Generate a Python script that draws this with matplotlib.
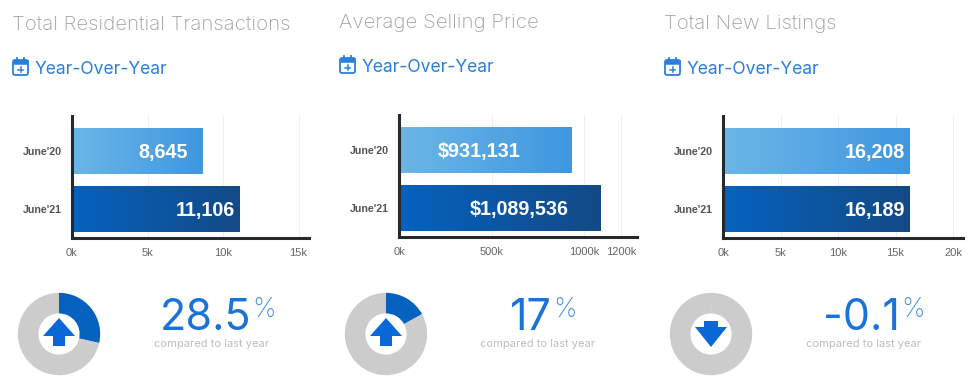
import numpy as np
import matplotlib
matplotlib.use("Agg")
import matplotlib.pyplot as plt
from matplotlib.colors import LinearSegmentedColormap
from matplotlib.patches import FancyBboxPatch, Polygon, Rectangle

# Chart values
titles = ["Total Residential Transactions", "Average Selling Price", "Total New Listings"]
periods = ["June'20", "June'21"]
transactions = [8645, 11106]
prices = [931131, 1089536]
listings = [16208, 16189]
bar_labels = [["8,645", "11,106"], ["$931,131", "$1,089,536"], ["16,208", "16,189"]]
tick_values = [[0, 5000, 10000, 15000], [0, 500000, 1000000, 1200000], [0, 5000, 10000, 15000, 20000]]
tick_labels = [["0k", "5k", "10k", "15k"], ["0k", "500k", "1000k", "1200k"], ["0k", "5k", "10k", "15k", "20k"]]
changes = [28.5, 17, -0.1]
change_labels = ["28.5", "17", "-0.1"]

W, H = 975, 388
BLUE = "#1a73d8"
DARK = "#222a30"
cmap_light = LinearSegmentedColormap.from_list("light", ["#6cb6e6", "#3f97e0"])
cmap_dark = LinearSegmentedColormap.from_list("dark", ["#0562bf", "#134a86"])

plt.rcParams["font.family"] = ["Inter", "DejaVu Sans"]
fig = plt.figure(figsize=(W / 100, H / 100), dpi=100)


def add_px_axes(x0, y0, x1, y1):
    # pixel box, measured from the top left of the picture
    return fig.add_axes([x0 / W, 1 - y1 / H, (x1 - x0) / W, (y1 - y0) / H])


# overlay in pixel coordinates for the icons and free text
bg = fig.add_axes([0, 0, 1, 1])
bg.set_xlim(0, W)
bg.set_ylim(H, 0)
bg.axis("off")


def calendar(x, y):
    c = "#2a7fdc"
    bg.add_patch(FancyBboxPatch((x + 1, y + 2), 15, 15, boxstyle="round,pad=0,rounding_size=2",
                                fc="white", ec=c, lw=1.3))
    bg.add_patch(Rectangle((x + 1, y + 2), 15, 4, fc=c, ec=c, lw=0.4))
    bg.plot([x + 5, x + 5], [y, y + 3], color=c, lw=1.3)
    bg.plot([x + 12, x + 12], [y, y + 3], color=c, lw=1.3)
    bg.plot([x + 6, x + 11], [y + 11.5, y + 11.5], color=c, lw=1.1)
    bg.plot([x + 8.5, x + 8.5], [y + 9, y + 14], color=c, lw=1.1)


def arrow(cx, cy, up):
    # arrow shapes relative to the donut centre
    if up:
        pts = [[0, -16], [16, 2], [6, 2], [6, 12], [-6, 12], [-6, 2], [-16, 2]]
    else:
        pts = [[0, 13], [16, -7], [7, -7], [7, -13], [-7, -13], [-7, -7], [-16, -7]]
    bg.add_patch(Polygon(np.array(pts, dtype=float) + [cx, cy], closed=True, fc="#0a68d6", ec="none", zorder=5))


# one entry per panel: left edge of the axis, pixels per value, right end of the axis
panels = [
    dict(values=transactions, x0=72, x1=309, per=151.0 / 10000, top=116, bottom=238, title_x=12, title_y=25,
         cal_x=12, sub_y=69, donut=(59, 334), pct_x=160, cmp_x=211, pads=[15, 5]),
    dict(values=prices, x0=399, x1=637, per=185.0 / 1000000, top=115, bottom=237, title_x=339, title_y=23,
         cal_x=339, sub_y=67, donut=(386, 334), pct_x=510, cmp_x=538, pads=[51, 32]),
    dict(values=listings, x0=723, x1=963, per=57.5 / 5000, top=116, bottom=238, title_x=664, title_y=24,
         cal_x=664, sub_y=69, donut=(711, 334), pct_x=823, cmp_x=864, pads=[4, 4]),
]

for i, p in enumerate(panels):
    ax = add_px_axes(p["x0"], p["top"], p["x1"], p["bottom"])
    ax.patch.set_alpha(0)
    bars = ax.barh([0, 1], p["values"], height=0.8, color="none", zorder=2)
    for bar, cm, lab, pad in zip(bars, [cmap_light, cmap_dark], bar_labels[i], p["pads"]):
        b = bar.get_bbox()
        im = ax.imshow(np.linspace(0, 1, 256).reshape(1, -1), cmap=cm, aspect="auto", zorder=2,
                       extent=[b.x0, b.x1, b.y1, b.y0])
        im.set_clip_path(bar)
        ax.annotate(lab, xy=(b.x1, (b.y0 + b.y1) / 2), xytext=(-pad, -2),
                    textcoords="offset pixels", ha="right", va="center", color="white",
                    fontsize=14.2, fontweight="bold", family="Liberation Sans", zorder=4)
    ax.set_xlim(0, (p["x1"] - p["x0"]) / p["per"])
    ax.set_ylim(1.5, -0.6)
    ax.set_yticks([0, 1], periods)
    ax.set_xticks(tick_values[i], tick_labels[i])
    ax.tick_params(length=0)
    ax.tick_params(axis="y", pad=7, labelsize=7.7, labelcolor="#555555")
    ax.tick_params(axis="x", pad=7, labelsize=8, labelcolor="#666666")
    for t in ax.get_yticklabels():
        t.set_family("Liberation Sans")
        t.set_fontweight("bold")
    for t in ax.get_xticklabels():
        t.set_family("Liberation Sans")
    ax.grid(axis="x", color="#eeeeee", lw=0.8, zorder=0)
    ax.set_axisbelow(True)
    for s in ["top", "right"]:
        ax.spines[s].set_visible(False)
    for s in ["left", "bottom"]:
        ax.spines[s].set_color(DARK)
        ax.spines[s].set_linewidth(2.2)

    # headings
    bg.text(p["title_x"], p["title_y"], titles[i], fontsize=14.7, color="#a0a0a0", fontweight="light", va="center")
    calendar(p["cal_x"], p["sub_y"] - 11)
    bg.text(p["cal_x"] + 23, p["sub_y"], "Year-Over-Year", fontsize=12.6, color="#2a7fdc", va="center")

    # donut with the share of change, starting at twelve o'clock
    dx, dy = p["donut"]
    d_ax = add_px_axes(dx - 42, dy - 42, dx + 42, dy + 42)
    share = abs(changes[i])
    d_ax.pie([share, 100 - share], colors=["#0562bf", "#cccccc"], startangle=90, counterclock=False,
             radius=1.0, wedgeprops=dict(width=0.5))
    d_ax.set_xlim(-1.02, 1.02)
    d_ax.set_ylim(-1.02, 1.02)
    arrow(dx, dy, changes[i] > 0)

    # percentage text, small sign follows the number
    big = bg.text(p["pct_x"], 318, change_labels[i], fontsize=31, color=BLUE, ha="left", va="center")
    fig.canvas.draw()
    ext = big.get_window_extent()
    bg.text(ext.x1 + 1, 310, "%", fontsize=19, color="#3f8fe0", fontweight="light", ha="left", va="center")
    bg.text(p["cmp_x"], 344, "compared to last year", fontsize=8, color="#bdbdbd", ha="center", va="center")

fig.savefig("out.png", dpi=100)
